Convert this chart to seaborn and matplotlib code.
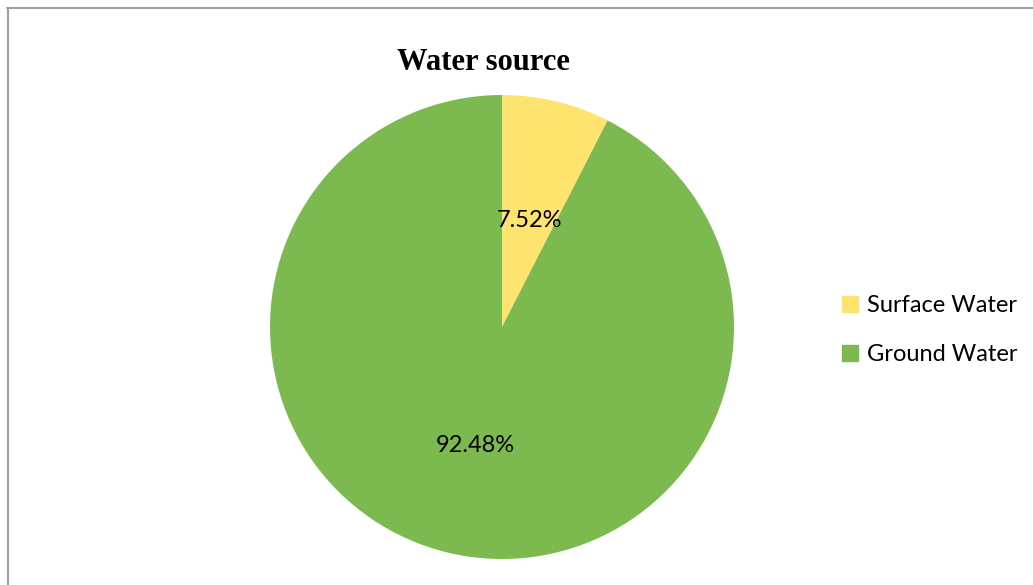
import matplotlib
matplotlib.use("Agg")
import matplotlib.pyplot as plt
from matplotlib.lines import Line2D
import seaborn as sns

# Share of households by water source (%)
sources = ["Surface Water", "Ground Water"]
shares = [7.52, 92.48]
colors = ["#FFE36F", "#7CB94F"]

sns.set_theme(style="white")
plt.rcParams["font.family"] = ["Lato", "DejaVu Sans"]
plt.rcParams["text.color"] = "black"

fig = plt.figure(figsize=(10.33, 5.85), dpi=100)
fig.patch.set_facecolor("white")

# Frame: top and left edges only
fig.add_artist(Line2D([0.0068, 1.0], [1 - 7.5 / 585, 1 - 7.5 / 585],
                      transform=fig.transFigure, color="#A0A0A0", lw=1.5))
fig.add_artist(Line2D([7.5 / 1033, 7.5 / 1033], [0.0, 1 - 7.5 / 585],
                      transform=fig.transFigure, color="#A0A0A0", lw=1.5))

ax = fig.add_axes([270 / 1033, 26 / 585, 464 / 1033, 464 / 585])
wedges, texts, autotexts = ax.pie(
    shares,
    colors=colors,
    startangle=90,
    counterclock=False,
    autopct=lambda p: f"{p:.2f}%",
    pctdistance=0.5,
    radius=1.0,
    wedgeprops=dict(linewidth=0),
    textprops=dict(fontsize=17, color="black"),
)
# nudge the percentage labels slightly downward
for t in autotexts:
    x, y = t.get_position()
    t.set_position((x, y - 0.026))
ax.set_xlim(-1, 1)
ax.set_ylim(-1, 1)
ax.set_aspect("equal")
ax.axis("off")

fig.text(483 / 1033, 1 - 62 / 585, "Water source", ha="center", va="center",
         fontsize=22, fontweight="bold", family="Liberation Serif", color="black")

handles = [Line2D([0], [0], marker="s", linestyle="none", markersize=11,
                  markerfacecolor=c, markeredgecolor=c) for c in colors]
leg = fig.legend(handles, sources, loc="center left",
                 bbox_to_anchor=(817 / 1033, 1 - 330 / 585), frameon=False,
                 fontsize=17, handletextpad=0.2, labelspacing=1.2,
                 handlelength=1.0)
for t in leg.get_texts():
    t.set_color("black")

fig.savefig("out.png", dpi=100, facecolor="white")
